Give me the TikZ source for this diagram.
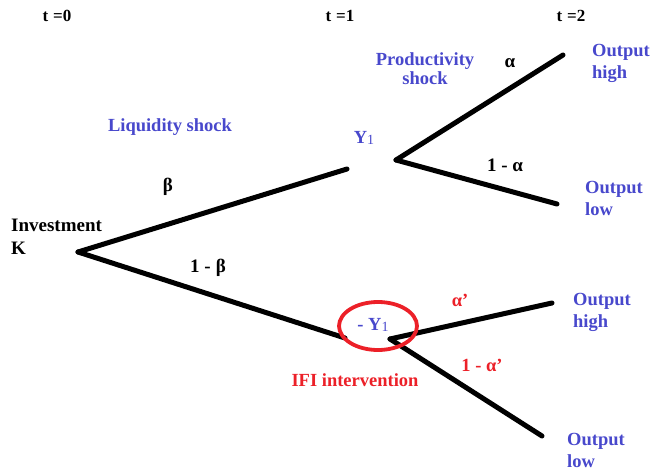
\documentclass[tikz,border=0pt]{standalone}
\usepackage{fontspec}
\setmainfont{Liberation Serif}
\definecolor{tblue}{RGB}{72,72,204}
\definecolor{tred}{RGB}{236,32,40}
\begin{document}
\begin{tikzpicture}[x=1pt,y=-1pt,
  branch/.style={line width=5pt,line cap=round,black},
  blk/.style={inner sep=0pt,font=\bfseries\fontsize{19}{23}\selectfont,text=black},
  toplbl/.style={inner sep=0pt,font=\bfseries\fontsize{17}{20}\selectfont,text=black},
  bluetxt/.style={inner sep=0pt,font=\bfseries\fontsize{18.5}{22}\selectfont,text=tblue},
  redtxt/.style={inner sep=0pt,font=\bfseries\fontsize{18.5}{22}\selectfont,text=tred}]
\useasboundingbox (0,0) rectangle (654,471);
% coordinates
\coordinate (K) at (78,252);
\coordinate (UE) at (347,169);
\coordinate (UP) at (396,160);
\coordinate (UH) at (563,55);
\coordinate (UL) at (557,204);
\coordinate (LE) at (345,338);
\coordinate (LP) at (390,339);
\coordinate (LH) at (552,303);
\coordinate (LL) at (542,436);
% branches
\draw[branch] (K) -- (UE);
\draw[branch] (K) -- (LE);
\draw[branch] (UP) -- (UH);
\draw[branch] (UP) -- (UL);
\draw[branch] (LP) -- (LH);
\draw[branch] (LP) -- (LL);
% ring
\draw[draw=tred,line width=3.8pt] (378,326) ellipse [x radius=39,y radius=24];
% time labels
\node[toplbl] (t0) at (57,16) {t\hspace{5pt}=0};
\node[toplbl] (t1) at (340,16) {t\hspace{5pt}=1};
\node[toplbl] (t2) at (571,16) {t\hspace{5pt}=2};
% black labels
\node[blk,align=left,anchor=west] (inv) at (11,237) {Investment\\K};
\node[blk] (beta) at (168,187) {β};
\node[blk] (omb) at (208,268) {1 -\hspace{5pt}β};
\node[blk] (alpha) at (510,63) {α};
\node[blk] (oma) at (505,165) {1 - α};
% blue labels
\node[bluetxt] (liq) at (170,127) {Liquidity shock};
\node[bluetxt,align=center,font=\bfseries\fontsize{18.5}{19}\selectfont] (prod) at (425,69) {Productivity\\shock};
\node[bluetxt] (y1) at (364,138) {Y\raisebox{-0.1ex}{\mdseries\fontsize{14}{14}\selectfont 1}};
\node[bluetxt] (my1) at (373,325) {- Y\raisebox{-0.1ex}{\mdseries\fontsize{14}{14}\selectfont 1}};
\node[bluetxt,align=left,anchor=west] (oh1) at (592,63) {Output\\high};
\node[bluetxt,align=left,anchor=west] (ol1) at (585,198) {Output\\low};
\node[bluetxt,align=left,anchor=west] (oh2) at (573,312) {Output\\high};
\node[bluetxt,align=left,anchor=west] (ol2) at (567,450) {Output\\low};
% red labels
\node[redtxt] (ap) at (460,300) {α’};
\node[redtxt] (omap) at (482,365) {1 - α’};
\node[redtxt] (ifi) at (355,380) {IFI intervention};
\end{tikzpicture}
\end{document}
